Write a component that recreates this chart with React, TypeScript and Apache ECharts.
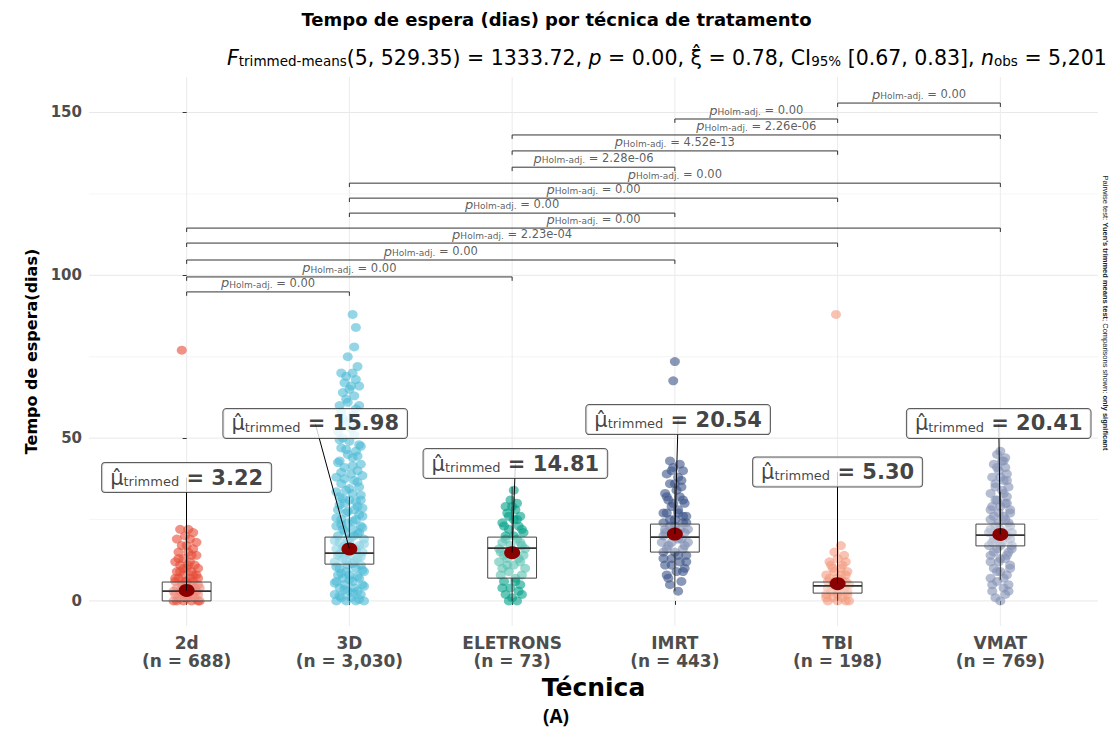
import React, { useEffect, useRef } from "react";
import * as echarts from "echarts";

const FONT = "DejaVu Sans";

const categories = ["2d", "3D", "ELETRONS", "IMRT", "TBI", "VMAT"];
const counts = [688, 3030, 73, 443, 198, 769];
const groupColors = ["#E64B35", "#4DBBD5", "#00A087", "#3C5488", "#F39B7F", "#8491B4"];
const trimmedMeans = [3.22, 15.98, 14.81, 20.54, 5.3, 20.41];

// [low whisker, Q1, median, Q3, high whisker]
const boxStats = [
  [0, 0, 3, 5.8, 14],
  [0, 11.3, 14.7, 19.6, 32],
  [0, 7.0, 16.2, 19.6, 35],
  [3, 15.0, 19.6, 23.6, 36],
  [0, 2.4, 4.6, 5.8, 10],
  [6.5, 16.9, 20.2, 23.6, 33.5],
];

// [jitter, value]
const pts2d = [
  [-0.06, 0], [-0.02, 0], [0.03, 0], [0.07, 0], [-0.05, 1], [0.01, 1], [0.05, 1], [-0.07, 2], [-0.01, 2], [0.04, 2],
  [-0.04, 3], [0.02, 3], [0.06, 3], [-0.06, 4], [0.0, 4], [0.05, 4], [-0.03, 5], [0.03, 5], [0.07, 5], [-0.07, 6],
  [-0.01, 6], [0.04, 6], [-0.05, 7], [0.02, 7], [-0.02, 8], [0.06, 8], [-0.06, 9], [0.03, 9], [0.0, 10], [-0.04, 11],
  [0.05, 11], [-0.07, 12], [0.02, 12], [-0.02, 13], [0.06, 14], [-0.05, 15], [0.01, 15], [0.04, 16], [-0.03, 17],
  [0.06, 18], [-0.06, 19], [0.02, 19], [-0.01, 20], [0.04, 21], [-0.04, 22], [0.01, 22], [-0.03, 77],
  [-0.08, 0], [0.08, 0], [0.0, 1], [-0.03, 2], [0.07, 2], [0.03, 3], [-0.08, 3], [0.08, 4], [-0.02, 5], [0.0, 6],
  [0.07, 7], [-0.07, 7], [0.04, 8], [-0.04, 9], [0.07, 10], [-0.02, 10], [0.01, 11], [-0.05, 13], [0.03, 14], [0.0, 17],
];
const pts3D = [
  [-0.08, 0], [-0.02, 0], [0.04, 0], [0.09, 0], [-0.05, 1], [0.01, 1], [0.07, 2], [-0.09, 2], [-0.01, 3], [0.05, 3],
  [-0.06, 4], [0.03, 4], [0.08, 5], [-0.03, 5], [-0.08, 6], [0.02, 6], [0.06, 7], [-0.04, 7], [0.0, 8], [-0.07, 8],
  [0.09, 9], [-0.02, 9], [0.04, 10], [-0.06, 10], [0.07, 11], [-0.01, 11], [-0.09, 12], [0.03, 12], [0.05, 13],
  [-0.04, 13], [-0.07, 14], [0.01, 14], [0.08, 15], [-0.02, 15], [0.04, 16], [-0.08, 16], [-0.03, 17], [0.06, 17],
  [0.0, 18], [-0.06, 18], [0.09, 19], [-0.01, 19], [0.03, 20], [-0.07, 20], [0.06, 21], [-0.04, 22], [0.02, 22],
  [-0.08, 23], [0.07, 23], [-0.01, 24], [0.04, 25], [-0.05, 25], [0.08, 26], [-0.02, 27], [0.03, 28], [-0.07, 28],
  [0.05, 29], [-0.03, 30], [0.0, 31], [0.07, 31], [-0.06, 32], [0.02, 33], [-0.02, 34], [0.06, 35], [-0.05, 36],
  [0.03, 37], [-0.08, 38], [0.01, 39], [0.05, 40], [-0.03, 41], [0.07, 42], [-0.06, 43], [0.02, 44], [-0.01, 45],
  [0.04, 46], [-0.05, 47], [0.06, 48], [0.0, 49], [-0.04, 50], [0.03, 51], [-0.07, 52], [0.05, 54], [-0.02, 55],
  [0.02, 57], [-0.05, 58], [0.06, 60], [-0.01, 61], [0.03, 63], [-0.04, 64], [0.01, 66], [-0.03, 67], [0.04, 68],
  [-0.02, 69], [0.02, 70], [0.05, 72], [-0.01, 75], [0.03, 78], [0.04, 84], [0.02, 88],
  [0.06, 0.5], [-0.06, 1.5], [0.02, 2.5], [-0.03, 3.5], [0.09, 4.5], [-0.09, 5.5], [0.0, 6.5], [0.05, 7.5],
  [-0.05, 8.5], [0.08, 9.5], [-0.08, 10.5], [0.02, 11.5], [-0.02, 12.5], [0.07, 13.5], [-0.06, 14.5], [0.04, 15.5],
  [-0.04, 16.5], [0.09, 17.5], [-0.09, 18.5], [0.01, 19.5], [0.05, 20.5], [-0.03, 21.5], [0.08, 22.5], [-0.05, 23.5],
  [0.02, 24.5], [-0.08, 25.5], [0.06, 26.5], [-0.01, 27.5], [0.08, 28.5], [-0.06, 29.5], [0.04, 30.5], [-0.04, 31.5],
  [0.07, 32.5], [-0.08, 33.5], [0.0, 34.5], [0.05, 36.5], [-0.03, 37.5], [0.08, 38.5], [-0.05, 39.5], [0.02, 41.5],
  [-0.07, 42.5], [0.05, 44.5], [-0.02, 46.5], [0.07, 47.5], [-0.06, 49.5], [0.01, 53], [-0.04, 56], [0.04, 59],
  [-0.02, 62], [0.0, 65], [-0.05, 70], [0.06, 66], [-0.06, 60],
];
const ptsEle = [
  [-0.02, 0], [0.03, 0], [0.0, 1], [-0.04, 2], [0.04, 3], [-0.01, 4], [0.05, 5], [-0.05, 6], [0.02, 7], [-0.07, 8],
  [0.06, 8], [-0.02, 9], [0.08, 10], [-0.06, 10], [0.01, 11], [-0.08, 12], [0.05, 12], [-0.03, 13], [0.07, 14],
  [-0.05, 14], [0.02, 15], [-0.08, 16], [0.08, 16], [-0.01, 17], [0.05, 18], [-0.06, 18], [0.03, 19], [-0.04, 20],
  [0.07, 21], [-0.02, 22], [0.04, 23], [-0.06, 24], [0.01, 25], [0.05, 26], [-0.03, 27], [0.02, 28], [-0.04, 29],
  [0.03, 30], [-0.01, 31], [0.01, 34],
  [0.06, 2], [-0.06, 4], [0.02, 6], [-0.03, 11], [0.04, 13], [-0.07, 15], [0.06, 17], [-0.04, 19], [0.01, 20],
  [0.06, 22], [-0.05, 23], [0.03, 25], [-0.02, 26], [0.0, 29],
];
const ptsImrt = [
  [0.02, 3], [-0.03, 5], [0.04, 6], [-0.05, 8], [0.01, 9], [0.06, 10], [-0.06, 11], [0.03, 12], [-0.02, 13],
  [0.07, 14], [-0.07, 15], [0.0, 15], [0.05, 16], [-0.04, 17], [0.08, 18], [-0.08, 18], [0.02, 19], [-0.01, 20],
  [0.06, 21], [-0.06, 21], [0.03, 22], [-0.03, 23], [0.07, 24], [-0.07, 24], [0.0, 25], [0.05, 26], [-0.05, 27],
  [0.02, 28], [-0.02, 29], [0.06, 30], [-0.04, 31], [0.03, 32], [-0.06, 33], [0.01, 34], [0.04, 35], [-0.03, 36],
  [0.02, 38], [-0.05, 39], [0.05, 40], [-0.01, 41], [0.03, 42], [-0.03, 43], [-0.01, 67.6], [0.0, 73.5],
  [-0.04, 7], [0.05, 9], [-0.02, 11], [0.07, 12], [-0.07, 13], [0.02, 14], [-0.05, 16], [0.06, 17], [-0.02, 18],
  [0.04, 19], [-0.07, 20], [0.01, 21], [0.08, 22], [-0.06, 22], [0.0, 23], [0.05, 24], [-0.03, 25], [0.07, 26],
  [-0.07, 27], [0.02, 27], [-0.01, 30], [0.05, 31], [-0.05, 32], [0.0, 36], [0.04, 37], [-0.02, 40],
];
const ptsTbi = [
  [-0.06, 0], [0.0, 0], [0.05, 0], [-0.03, 1], [0.03, 1], [-0.07, 2], [0.06, 2], [0.0, 3], [-0.04, 3], [0.04, 4],
  [-0.06, 4], [0.01, 5], [0.07, 5], [-0.02, 6], [0.05, 6], [-0.05, 7], [0.02, 8], [-0.07, 8], [0.06, 9], [-0.03, 10],
  [0.03, 11], [-0.05, 12], [0.0, 13], [0.04, 14], [-0.02, 15], [0.02, 17], [-0.01, 88],
  [0.07, 0], [-0.07, 1], [0.0, 2], [0.06, 3], [-0.03, 5], [0.03, 6], [-0.06, 6], [0.0, 7], [0.05, 8], [-0.02, 9],
  [0.02, 10], [-0.04, 11], [0.05, 12],
];
const ptsVmat = [
  [0.0, 0], [-0.03, 1], [0.03, 2], [-0.05, 3], [0.02, 4], [0.05, 5], [-0.02, 6], [-0.06, 7], [0.04, 8], [0.0, 9],
  [-0.04, 10], [0.06, 11], [-0.01, 12], [0.03, 13], [-0.06, 14], [0.05, 15], [-0.02, 16], [0.07, 17], [-0.07, 17],
  [0.01, 18], [-0.04, 19], [0.04, 20], [-0.07, 21], [0.07, 21], [0.0, 22], [-0.03, 23], [0.05, 24], [-0.06, 25],
  [0.02, 26], [-0.01, 27], [0.06, 28], [-0.05, 29], [0.03, 30], [-0.02, 31], [0.04, 32], [-0.06, 33], [0.01, 34],
  [0.05, 35], [-0.03, 36], [0.02, 37], [-0.05, 38], [0.04, 39], [-0.01, 40], [0.03, 41], [-0.04, 42], [0.01, 43],
  [0.03, 44], [-0.02, 45], [0.0, 46],
  [0.05, 3], [-0.05, 5], [0.02, 7], [-0.02, 9], [0.06, 10], [-0.06, 12], [0.0, 13], [0.04, 14], [-0.04, 15],
  [0.07, 16], [0.0, 17], [-0.05, 18], [0.06, 19], [-0.02, 20], [0.02, 21], [-0.06, 22], [0.06, 23], [-0.01, 24],
  [0.03, 25], [-0.04, 26], [0.06, 27], [-0.06, 28], [0.0, 29], [0.04, 30], [-0.03, 31], [0.02, 33], [-0.03, 35],
  [0.04, 37], [0.0, 38], [-0.02, 41], [0.02, 43],
];
const groupPoints = [pts2d, pts3D, ptsEle, ptsImrt, ptsTbi, ptsVmat];

// pairwise comparisons (only significant)
const bracketPairs = [
  [0, 1], [0, 2], [0, 3], [0, 4], [0, 5], [1, 3], [1, 4], [1, 5], [2, 3], [2, 4], [2, 5], [3, 4], [4, 5],
];
const bracketLevels = [94.9, 99.5, 104.7, 109.9, 114.5, 119.1, 123.7, 128.3, 133.2, 138.2, 143.1, 148.0, 152.9];
const bracketP = [
  "0.00", "0.00", "0.00", "2.23e-04", "0.00", "0.00", "0.00", "0.00", "2.28e-06", "4.52e-13", "2.26e-06", "0.00", "0.00",
];

const yTicks = [0, 50, 100, 150];
const yMinor = [25, 75, 125];

// label anchor positions (layout, in data units)
const meanLabelAt = [
  [0, 37.9], [0.79, 54.5], [2.02, 42.2], [3.02, 55.7], [4.0, 39.6], [4.99, 54.5],
];

const TIP = 1.2;
const BOX_HALF = 0.15;

function buildOption(): any {
  const series: any[] = [];

  series.push({
    type: "custom",
    z: 0,
    silent: true,
    data: [
      ...yTicks.map((v) => [0, v]),
      ...yMinor.map((v) => [1, v]),
      ...categories.map((_, i) => [2, i]),
    ],
    renderItem: (params: any, api: any) => {
      const kind = api.value(0);
      const v = api.value(1);
      const cs = params.coordSys;
      if (kind === 2) {
        const x = api.coord([v, 0])[0];
        return {
          type: "line",
          shape: { x1: x, y1: cs.y, x2: x, y2: cs.y + cs.height },
          style: { stroke: "#ebebeb", lineWidth: 1 },
        };
      }
      const y = api.coord([0, v])[1];
      return {
        type: "line",
        shape: { x1: cs.x, y1: y, x2: cs.x + cs.width, y2: y },
        style: { stroke: kind === 0 ? "#e8e8e8" : "#f3f3f3", lineWidth: kind === 0 ? 1 : 0.8 },
      };
    },
  });

  groupPoints.forEach((pts, i) => {
    series.push({
      type: "scatter",
      name: categories[i],
      silent: true,
      z: 2,
      symbolSize: [10, 9],
      itemStyle: { color: groupColors[i], opacity: 0.6 },
      data: pts.map(([dx, v]) => [i + dx, v]),
    });
  });

  series.push({
    type: "custom",
    z: 3,
    silent: true,
    encode: { x: 0, y: [1, 2, 3, 4, 5] },
    data: boxStats.map((b, i) => [i, ...b]),
    renderItem: (params: any, api: any) => {
      const i = api.value(0);
      const lo = api.value(1), q1 = api.value(2), med = api.value(3), q3 = api.value(4), hi = api.value(5);
      const tl = api.coord([i - BOX_HALF, q3]);
      const br = api.coord([i + BOX_HALF, q1]);
      const mL = api.coord([i - BOX_HALF, med]);
      const mR = api.coord([i + BOX_HALF, med]);
      const wHi = api.coord([i, hi]);
      const wQ3 = api.coord([i, q3]);
      const wQ1 = api.coord([i, q1]);
      const wLo = api.coord([i, lo]);
      return {
        type: "group",
        children: [
          { type: "line", shape: { x1: wQ3[0], y1: wQ3[1], x2: wHi[0], y2: wHi[1] }, style: { stroke: "#333", lineWidth: 1 } },
          { type: "line", shape: { x1: wQ1[0], y1: wQ1[1], x2: wLo[0], y2: wLo[1] }, style: { stroke: "#333", lineWidth: 1 } },
          {
            type: "rect",
            shape: { x: tl[0], y: tl[1], width: br[0] - tl[0], height: br[1] - tl[1] },
            style: { fill: "rgba(255,255,255,0.35)", stroke: "#444", lineWidth: 1 },
          },
          { type: "line", shape: { x1: mL[0], y1: mL[1], x2: mR[0], y2: mR[1] }, style: { stroke: "#333", lineWidth: 1.8 } },
        ],
      };
    },
  });

  series.push({
    type: "scatter",
    name: "trimmed mean",
    silent: true,
    z: 4,
    symbolSize: [16, 13],
    itemStyle: { color: "#8B0000", opacity: 1 },
    data: trimmedMeans.map((m, i) => [i, m]),
  });

  series.push({
    type: "lines",
    coordinateSystem: "cartesian2d",
    silent: true,
    z: 5,
    lineStyle: { color: "#000", width: 1, opacity: 1 },
    data: trimmedMeans.map((m, i) => ({ coords: [[i, m], meanLabelAt[i]] })),
  });

  series.push({
    type: "lines",
    coordinateSystem: "cartesian2d",
    polyline: true,
    silent: true,
    z: 5,
    lineStyle: { color: "#333", width: 1, opacity: 1 },
    data: bracketPairs.map(([a, b], k) => {
      const lv = bracketLevels[k];
      return { coords: [[a, lv - TIP], [a, lv], [b, lv], [b, lv - TIP]] };
    }),
  });

  series.push({
    type: "scatter",
    silent: true,
    z: 6,
    symbolSize: 1,
    itemStyle: { color: "rgba(0,0,0,0)" },
    data: bracketPairs.map(([a, b], k) => ({ value: [(a + b) / 2, bracketLevels[k]], name: bracketP[k] })),
    label: {
      show: true,
      position: "top",
      distance: 2,
      formatter: (p: any) => `{p|p}{s|Holm-adj.}{v| = ${p.name}}`,
      rich: {
        p: { fontFamily: FONT, fontSize: 13, fontStyle: "italic", color: "#333" },
        s: { fontFamily: FONT, fontSize: 9, color: "#333", verticalAlign: "bottom" },
        v: { fontFamily: FONT, fontSize: 11.5, color: "#333" },
      },
    },
  });

  series.push({
    type: "scatter",
    silent: true,
    z: 10,
    symbolSize: 1,
    itemStyle: { color: "rgba(0,0,0,0)" },
    data: meanLabelAt.map((pos, i) => ({ value: pos, name: trimmedMeans[i].toFixed(2) })),
    label: {
      show: true,
      position: "inside",
      formatter: (p: any) => `{mu|\u03bc\u0302}{s|trimmed}{v| = ${p.name}}`,
      backgroundColor: "#fff",
      borderColor: "#333",
      borderWidth: 1,
      borderRadius: 3,
      padding: [4, 8, 4, 8],
      rich: {
        mu: { fontFamily: FONT, fontSize: 21, color: "#111" },
        s: { fontFamily: FONT, fontSize: 13, color: "#111", verticalAlign: "bottom" },
        v: { fontFamily: FONT, fontSize: 21, fontWeight: "bold", color: "#111" },
      },
    },
  });

  const idx = [0, 1, 2, 3, 4, 5];

  return {
    animation: false,
    backgroundColor: "#fff",
    textStyle: { fontFamily: FONT },
    title: [
      {
        text: "Tempo de espera (dias) por técnica de tratamento",
        left: "center",
        top: 5,
        textStyle: { fontFamily: FONT, fontSize: 18, fontWeight: "bold", color: "#000" },
      },
      {
        text:
          "{i|F}{s|trimmed-means}{r|(5, 529.35) = 1333.72, }{i|p}{r| = 0.00, \u03be\u0302 = 0.78, CI}{s|95%}{r| [0.67, 0.83], }{i|n}{s|obs}{r| = 5,201}",
        left: 222,
        top: 42,
        textStyle: {
          fontWeight: "normal",
          rich: {
            r: { fontFamily: FONT, fontSize: 20.5, fontWeight: "normal", color: "#000" },
            i: { fontFamily: FONT, fontSize: 20.5, fontWeight: "normal", fontStyle: "italic", color: "#000" },
            s: { fontFamily: FONT, fontSize: 13.5, fontWeight: "normal", color: "#000", verticalAlign: "bottom" },
          },
        },
      },
    ],
    grid: { left: 89, right: 15, top: 77, bottom: 109 },
    xAxis: {
      type: "value",
      min: -0.6,
      max: 5.6,
      axisLine: { show: false },
      splitLine: { show: false },
      axisTick: { show: true, customValues: idx, length: 4, lineStyle: { color: "#333" } },
      axisLabel: {
        customValues: idx,
        formatter: (v: number) => {
          const i = Math.round(v);
          return `${categories[i]}\n(n = ${counts[i].toLocaleString("en-US")})`;
        },
        fontFamily: FONT,
        fontSize: 17,
        fontWeight: "bold",
        color: "#4d4d4d",
        lineHeight: 18,
        margin: 8,
      },
      name: "Técnica",
      nameLocation: "middle",
      nameGap: 38,
      nameTextStyle: { fontFamily: FONT, fontSize: 25, fontWeight: "bold", color: "#000" },
    },
    yAxis: {
      type: "value",
      min: -7.7,
      max: 160.9,
      axisLine: { show: false },
      splitLine: { show: false },
      axisTick: { show: true, customValues: yTicks, length: 4, lineStyle: { color: "#333" } },
      axisLabel: {
        customValues: yTicks,
        fontFamily: FONT,
        fontSize: 15,
        fontWeight: "bold",
        color: "#4d4d4d",
        margin: 7,
      },
      name: "Tempo de espera(dias)",
      nameLocation: "middle",
      nameRotate: 90,
      nameGap: 49,
      nameTextStyle: { fontFamily: FONT, fontSize: 16, fontWeight: "bold", color: "#000" },
    },
    graphic: [
      {
        type: "text",
        x: 556,
        y: 716,
        style: {
          text: "(A)",
          fontFamily: "Open Sans",
          fontSize: 19,
          fontWeight: "bold",
          fill: "#000",
          align: "center",
          verticalAlign: "middle",
        },
      },
      {
        type: "text",
        x: 1105,
        y: 313,
        rotation: -Math.PI / 2,
        style: {
          text: "{n|Pairwise test: }{b|Yuen's trimmed means test}{n|; Comparisons shown: }{b|only significant}",
          align: "center",
          verticalAlign: "middle",
          rich: {
            n: { fontFamily: "Liberation Sans", fontSize: 7.5, fill: "#222" },
            b: { fontFamily: "Liberation Sans", fontSize: 7.5, fontWeight: "bold", fill: "#222" },
          },
        },
      },
    ],
    series,
  };
}

export default function App() {
  const ref = useRef<HTMLDivElement>(null);
  useEffect(() => {
    if (!ref.current) return;
    const chart = echarts.init(ref.current, null, { renderer: "svg" });
    chart.setOption(buildOption());
    return () => chart.dispose();
  }, []);
  return (
    <div
      ref={ref}
      style={{ position: "fixed", left: 0, top: 0, width: 1113, height: 735, background: "#fff" }}
    />
  );
}
